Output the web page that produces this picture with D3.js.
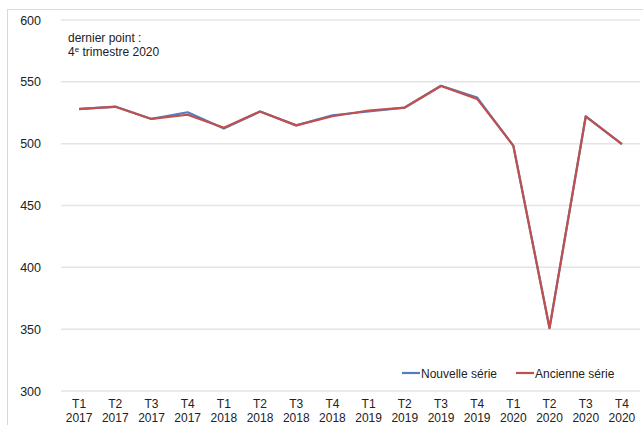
<!DOCTYPE html>
<html><head><meta charset="utf-8">
<script src="https://cdn.jsdelivr.net/npm/d3@7"></script>
<style>
body{margin:0;background:#fff;}
svg{display:block;font-family:"Liberation Sans",Arial,sans-serif;}
</style></head>
<body><svg id="c" width="643" height="425"></svg>
<script>
const quarters = ["T1","T2","T3","T4","T1","T2","T3","T4","T1","T2","T3","T4","T1","T2","T3","T4"];
const years = ["2017","2017","2017","2017","2018","2018","2018","2018","2019","2019","2019","2019","2020","2020","2020","2020"];
const nouvelle = [528, 530, 520, 525.4, 512.2, 526, 514.8, 523, 526, 529.2, 546.8, 537.2, 498.2, 351, 522, 499.6];
const ancienne = [528.2, 529.8, 520, 523.4, 512.9, 526, 514.8, 522.2, 526.8, 529.2, 546.6, 536.2, 498.4, 350.8, 522, 499.6];
const yTicks = [300, 350, 400, 450, 500, 550, 600];
const seriesNames = ["Nouvelle série", "Ancienne série"];
const colors = ["#4f7fc2", "#c0504d"];

const svg = d3.select("#c");
const m = {l:61, r:3, t:20, b:34};
const W = 643, H = 425;

svg.append("rect").attr("x",7.5).attr("y",9.5).attr("width",650).attr("height",430)
  .attr("fill","none").attr("stroke","#d9d9d9");

const idx = d3.range(quarters.length);
const x = d3.scaleBand().domain(idx).range([61, 640]);
const y = d3.scaleLinear().domain([300, 600]).range([391, 20]);

// gridlines
svg.append("g").selectAll("line").data(yTicks).join("line")
  .attr("x1",61).attr("x2",640).attr("y1",d=>y(d)).attr("y2",d=>y(d))
  .attr("stroke","#e4e4e4").attr("stroke-width",1.5);

// y axis labels
const yAxis = d3.axisLeft(y).tickValues(yTicks).tickSize(0).tickPadding(20);
const gy = svg.append("g").attr("transform","translate(61,0)").call(yAxis);
gy.select(".domain").remove();
gy.selectAll("text").attr("font-size",12.5).attr("fill","#222").attr("font-family","Liberation Sans, Arial, sans-serif");

// x axis labels (two lines)
const xAxis = d3.axisBottom(x).tickSize(0).tickFormat(()=>"");
const gx = svg.append("g").attr("transform","translate(0,391)").call(xAxis);
gx.select(".domain").remove();
gx.selectAll(".tick").each(function(d){
  const t = d3.select(this).append("text").attr("fill","#222").attr("font-size",12)
    .attr("text-anchor","middle").attr("font-family","Liberation Sans, Arial, sans-serif");
  t.append("tspan").attr("x",0).attr("y",17).text(quarters[d]);
  t.append("tspan").attr("x",0).attr("y",31).text(years[d]);
});

// lines
const line = d3.line().x((d,i)=>x(i)+x.bandwidth()/2).y(d=>y(d));
[nouvelle, ancienne].forEach((s,k)=>{
  svg.append("path").datum(s).attr("d",line).attr("fill","none")
    .attr("stroke",colors[k]).attr("stroke-width",2.2).attr("stroke-linejoin","round");
});

// annotation
const ann = svg.append("text").attr("font-size",12).attr("fill","#222");
ann.append("tspan").attr("x",68).attr("y",42).text("dernier point :");
const t2 = svg.append("text").attr("font-size",12).attr("fill","#222").attr("x",68).attr("y",56);
t2.append("tspan").text("4");
t2.append("tspan").attr("font-size",8).attr("dy",-4).text("e");
t2.append("tspan").attr("dy",4).text(" trimestre 2020");

// legend
const legX = [402, 516];
seriesNames.forEach((n,k)=>{
  const g = svg.append("g").attr("transform",`translate(${legX[k]},373)`);
  g.append("line").attr("x1",0).attr("x2",18).attr("stroke",colors[k]).attr("stroke-width",2.2);
  g.append("text").attr("x",19).attr("y",4.5).attr("font-size",12).attr("fill","#222").text(n);
});
</script></body></html>
